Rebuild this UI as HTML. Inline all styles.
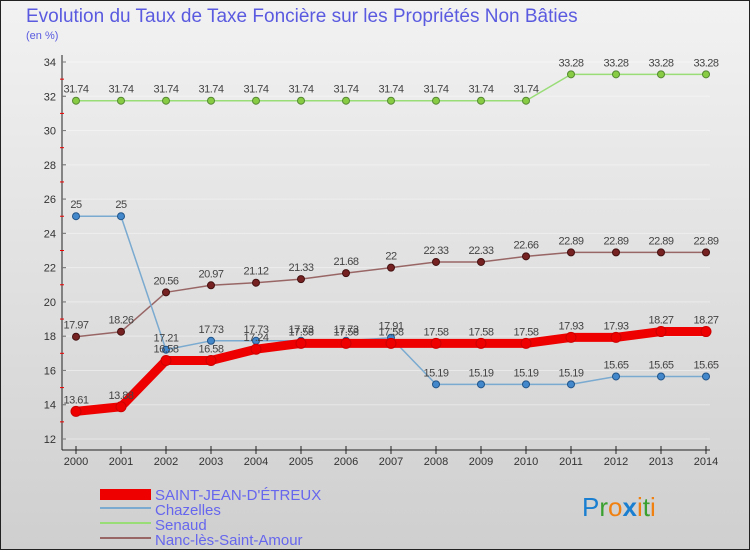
<!DOCTYPE html>
<html><head><meta charset="utf-8"><style>
body{margin:0;width:750px;height:550px;overflow:hidden;font-family:"Liberation Sans",sans-serif}
svg{font-family:"Liberation Sans",sans-serif}
</style></head><body>
<svg width="750" height="550" xmlns="http://www.w3.org/2000/svg">
<defs><linearGradient id="bg" x1="0" y1="0" x2="0" y2="1"><stop offset="0" stop-color="#f2f2f2"/><stop offset="1" stop-color="#cfcfcf"/></linearGradient></defs>
<rect x="0.5" y="0.5" width="749" height="549" fill="url(#bg)" stroke="#222"/>
<text x="26" y="22" font-size="19" fill="#5a5ae0">Evolution du Taux de Taxe Foncière sur les Propriétés Non Bâties</text>
<text x="26" y="39" font-size="11" fill="#5a5ae0">(en %)</text>
<g id="axes"></g><g id="series"></g>
<g>
<rect x="100" y="489" width="51" height="11" fill="#e00"/>
<line x1="100" y1="508" x2="151" y2="508" stroke="#7aaad0" stroke-width="2"/>
<line x1="100" y1="523" x2="151" y2="523" stroke="#99dd77" stroke-width="2"/>
<line x1="100" y1="538" x2="151" y2="538" stroke="#996666" stroke-width="2"/>
<text x="155" y="500" font-size="15" fill="#6666ee">SAINT-JEAN-D'ÉTREUX</text>
<text x="155" y="515" font-size="15" fill="#6666ee">Chazelles</text>
<text x="155" y="530" font-size="15" fill="#6666ee">Senaud</text>
<text x="155" y="545" font-size="15" fill="#6666ee">Nanc-lès-Saint-Amour</text>
</g>
<text x="582" y="516" font-size="26"><tspan fill="#1a7fd0">P</tspan><tspan fill="#3aa030">r</tspan><tspan fill="#f08010">o</tspan><tspan fill="#1a7fd0" font-weight="bold">x</tspan><tspan fill="#f08010">i</tspan><tspan fill="#3aa030">t</tspan><tspan fill="#f08010">i</tspan></text>
</svg>
<script>
const years=[2000,2001,2002,2003,2004,2005,2006,2007,2008,2009,2010,2011,2012,2013,2014];
const yTicks=[12,14,16,18,20,22,24,26,28,30,32,34];
const saintJean=[13.61,13.88,16.58,16.58,17.24,17.58,17.58,17.58,17.58,17.58,17.58,17.93,17.93,18.27,18.27];
const chazelles=[25,25,17.21,17.73,17.73,17.73,17.73,17.91,15.19,15.19,15.19,15.19,15.65,15.65,15.65];
const senaud=[31.74,31.74,31.74,31.74,31.74,31.74,31.74,31.74,31.74,31.74,31.74,33.28,33.28,33.28,33.28];
const nanc=[17.97,18.26,20.56,20.97,21.12,21.33,21.68,22,22.33,22.33,22.66,22.89,22.89,22.89,22.89];
const NS="http://www.w3.org/2000/svg";
const X=i=>76+i*45, Y=v=>439-(v-12)*(377/22);
function mk(t,a,p){const e=document.createElementNS(NS,t);for(const k in a)e.setAttribute(k,a[k]);p.appendChild(e);return e;}
const ax=document.getElementById('axes');
const yl=mk('line',{x1:62,y1:55,x2:62,y2:450,stroke:'#222'},ax);


const xl=mk('line',{x1:62,y1:450,x2:710,y2:450,stroke:'#222'},ax);


yTicks.forEach(v=>{const t=mk('text',{x:56,y:Y(v)+4,'font-size':11,fill:'#333','text-anchor':'end'},ax);t.textContent=v;


mk('line',{x1:62,y1:Y(v),x2:66,y2:Y(v),stroke:'#222'},ax);
if(v<34)mk('line',{x1:60,y1:Y(v+1),x2:64,y2:Y(v+1),stroke:'#e00'},ax);
mk('line',{x1:62,y1:Y(v),x2:710,y2:Y(v),stroke:'#fff','stroke-opacity':0.4},ax);});
years.forEach((y,i)=>{mk('line',{x1:X(i),y1:446,x2:X(i),y2:454,stroke:'#222'},ax);
const t=mk('text',{x:X(i),y:465,'font-size':11,fill:'#333','text-anchor':'middle'},ax);t.textContent=y;

});
const sg=document.getElementById('series');
function series(name,data,color,w,dot,r,fill){
const g=mk('g',{},sg);


mk('polyline',{points:data.map((v,i)=>X(i)+','+Y(v)).join(' '),fill:'none',stroke:color,'stroke-width':w,'stroke-linejoin':'round'},g);
data.forEach((v,i)=>{const c=mk('circle',{cx:X(i),cy:Y(v),r:r,fill:fill,stroke:dot,'stroke-width':1},g);


const t=mk('text',{x:X(i),y:Y(v)-8,'font-size':11,fill:'#444','text-anchor':'middle','letter-spacing':'-0.5'},g);t.textContent=v;

});}
series('senaud',senaud,'#99dd77',1.5,'#558833',3.5,'#88cc44');
series('nanc',nanc,'#996666',1.5,'#441111',3.5,'#772222');
series('chazelles',chazelles,'#7aaad0',1.5,'#225588',3.5,'#4488cc');
series('saint-jean',saintJean,'#ee0000',9,'#cc0000',5,'#ee0000');
</script>
</body></html>
